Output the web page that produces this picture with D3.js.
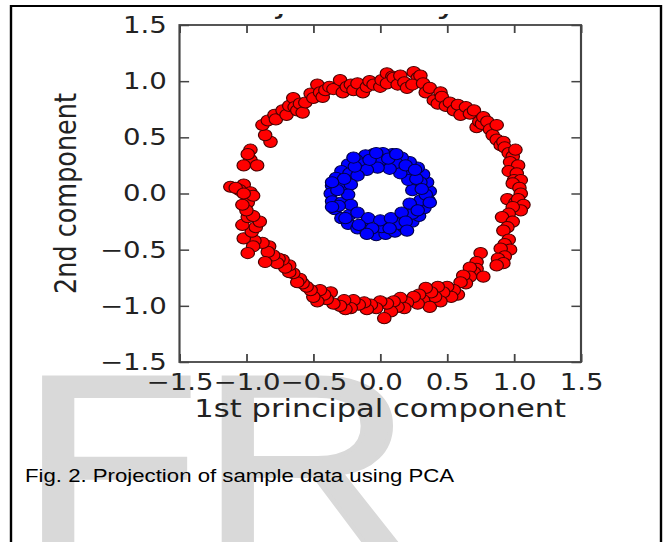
<!DOCTYPE html>
<html>
<head>
<meta charset="utf-8">
<script src="https://cdn.jsdelivr.net/npm/d3@7"></script>
<style>
  body { margin: 0; background: #fff; }
  svg { display: block; }
</style>
</head>
<body>
<div id="chart"></div>
<script>
// outer circle (red)
const redPoints = [
    [-1.12, 0.06], [-1.02, 0.08], [-0.97, 0.01], [-0.99, -0.08], [-1.05, 0.03], [-0.95, -0.02],
    [-1.08, 0.05], [-0.97, 0.39], [-0.97, 0.30], [-0.92, 0.25], [-1.02, 0.25], [-0.99, 0.35],
    [-0.82, 0.46], [-0.86, 0.52], [-0.88, 0.61], [-0.84, 0.65], [-0.79, 0.70], [-0.78, 0.66],
    [-0.73, 0.74], [-0.70, 0.70], [-0.68, 0.78], [-0.65, 0.85], [-0.64, 0.77], [-0.62, 0.74],
    [-0.60, 0.80], [-0.58, 0.72], [-0.56, 0.81], [-0.52, 0.89], [-0.50, 0.85], [-0.47, 0.97],
    [-0.45, 0.90], [-0.43, 0.86], [-0.41, 0.92], [-0.38, 0.95], [-0.35, 0.93], [-0.30, 1.01],
    [-0.28, 0.90], [-0.25, 0.95], [-0.22, 0.97], [-0.20, 0.92], [-0.17, 0.98], [-0.13, 0.90],
    [-0.10, 0.95], [-0.08, 1.00], [-0.05, 0.97], [0.00, 0.95], [0.01, 1.01],
    [0.05, 1.07], [0.09, 1.04], [0.05, 0.98], [0.10, 1.03], [0.13, 0.97], [0.15, 1.05],
    [0.18, 0.99], [0.20, 0.94], [0.25, 1.08], [0.28, 1.03], [0.24, 0.97], [0.30, 1.05],
    [0.32, 0.98], [0.34, 0.90], [0.37, 0.94], [0.40, 0.83], [0.43, 0.80], [0.45, 0.90],
    [0.46, 0.86], [0.49, 0.78], [0.52, 0.81], [0.55, 0.74], [0.58, 0.79], [0.60, 0.70],
    [0.64, 0.77], [0.67, 0.71], [0.70, 0.74], [0.72, 0.59], [0.74, 0.64], [0.76, 0.62],
    [0.77, 0.68], [0.80, 0.64], [0.82, 0.57], [0.84, 0.52], [0.87, 0.61], [0.87, 0.48],
    [0.90, 0.43], [0.92, 0.46], [0.93, 0.41], [0.96, 0.36], [0.99, 0.33], [1.01, 0.39],
    [0.97, 0.28], [1.03, 0.25], [0.96, 0.20], [1.02, 0.18], [1.00, 0.12], [1.05, 0.12],
    [0.99, 0.09], [1.04, 0.05], [1.05, 0.00], [0.95, -0.05], [1.01, -0.08], [1.03, -0.05],
    [1.07, -0.10], [1.05, -0.15], [0.99, -0.12], [0.96, -0.18], [0.91, -0.21], [0.99, -0.25],
    [0.95, -0.30], [0.92, -0.33], [0.96, -0.41], [0.93, -0.45], [0.97, -0.50], [0.90, -0.49],
    [0.93, -0.56], [0.88, -0.58], [0.92, -0.62], [0.87, -0.64],
    [0.75, -0.53], [0.72, -0.61], [0.72, -0.67], [0.70, -0.70], [0.67, -0.66], [0.77, -0.74],
    [0.67, -0.74], [0.64, -0.80], [0.62, -0.73], [0.60, -0.79], [0.58, -0.90], [0.55, -0.86],
    [0.53, -0.92], [0.50, -0.83], [0.47, -0.88], [0.45, -0.96], [0.43, -0.83], [0.41, -0.92],
    [0.38, -0.88], [0.34, -0.84], [0.32, -0.95], [0.37, -1.01], [0.29, -0.90], [0.28, -0.98],
    [0.25, -0.92], [0.20, -0.97], [0.18, -1.02], [0.15, -0.93], [0.13, -1.01], [0.10, -0.96],
    [0.08, -1.05], [0.05, -0.98], [0.03, -1.11], [0.00, -0.96],
    [-0.03, -1.02], [-0.07, -0.99], [-0.10, -1.03], [-0.12, -0.97], [-0.16, -0.99], [-0.20, -0.95],
    [-0.22, -1.02], [-0.26, -1.03], [-0.27, -0.95], [-0.30, -1.00], [-0.35, -0.98], [-0.37, -0.88],
    [-0.40, -0.94], [-0.42, -0.90], [-0.45, -0.86], [-0.47, -0.96], [-0.50, -0.92], [-0.52, -0.86],
    [-0.55, -0.83], [-0.58, -0.80], [-0.60, -0.76], [-0.62, -0.79], [-0.65, -0.71], [-0.68, -0.70],
    [-0.68, -0.64], [-0.71, -0.66], [-0.73, -0.59], [-0.76, -0.58], [-0.77, -0.62], [-0.80, -0.55],
    [-0.83, -0.47], [-0.84, -0.52], [-0.86, -0.61], [-0.88, -0.44], [-0.94, -0.42], [-0.95, -0.47],
    [-0.99, -0.53], [-1.02, -0.40], [-0.96, -0.34], [-0.93, -0.30], [-1.03, -0.28], [-0.90, -0.25],
    [-0.99, -0.21], [-0.95, -0.20], [-1.00, -0.15], [-1.03, -0.10], [-1.02, 0.00]
];

// inner circle (blue)
const bluePoints = [
    [0.37, 0.02], [0.35, 0.10], [0.32, 0.17], [0.28, 0.23], [0.22, 0.28], [0.16, 0.32],
    [0.09, 0.35], [0.02, 0.36], [-0.05, 0.35], [-0.11, 0.34], [-0.18, 0.30], [-0.24, 0.26],
    [-0.29, 0.20], [-0.33, 0.14], [-0.36, 0.07], [-0.37, 0.00], [-0.36, -0.07], [-0.34, -0.14],
    [-0.29, -0.22], [-0.24, -0.27], [-0.17, -0.31], [-0.10, -0.34], [-0.03, -0.37], [0.04, -0.36],
    [0.11, -0.34], [0.18, -0.30], [0.24, -0.25], [0.29, -0.20], [0.33, -0.13], [0.36, -0.06],
    [0.30, 0.10], [0.22, 0.20], [0.12, 0.27], [0.00, 0.29], [-0.13, 0.26], [-0.23, 0.18],
    [-0.29, 0.06], [-0.29, -0.08], [-0.23, -0.19], [-0.12, -0.27], [0.01, -0.30], [0.14, -0.27],
    [0.24, -0.18], [0.30, -0.06],
    [0.24, 0.03], [0.21, 0.12], [0.15, 0.18], [0.07, 0.22], [-0.02, 0.23], [-0.10, 0.21],
    [-0.17, 0.16], [-0.22, 0.08], [-0.24, -0.01], [-0.22, -0.10], [-0.17, -0.17], [-0.09, -0.22],
    [0.00, -0.24], [0.08, -0.22], [0.16, -0.17], [0.22, -0.09],
    [0.34, -0.01], [0.27, 0.13], [0.19, 0.25], [0.06, 0.31], [-0.08, 0.30], [-0.19, 0.24],
    [-0.27, 0.13], [-0.32, 0.03], [-0.31, -0.11], [-0.26, -0.22], [-0.16, -0.28], [-0.06, -0.31],
    [0.07, -0.31], [0.19, -0.25], [0.28, -0.15], [0.31, 0.04], [0.26, 0.21], [-0.03, 0.36],
    [0.12, 0.35], [-0.20, 0.32], [-0.36, 0.10], [-0.36, -0.12], [0.37, -0.08], [0.20, -0.33],
    [-0.10, -0.36]
];

const tickValues = [-1.5, -1.0, -0.5, 0.0, 0.5, 1.0, 1.5];
const titleText = "Projection by PCA";
const xLabel = "1st principal component";
const yLabel = "2nd component";
const caption = "Fig. 2. Projection of sample data using PCA";

const W = 663, H = 542;
const sx = 1.2; // the whole figure is stretched sideways

const plot = { left: 179.5 / sx, right: 581 / sx, top: 25, bottom: 362 };

const svg = d3.select("#chart").append("svg")
    .attr("width", W)
    .attr("height", H);

svg.append("defs").append("clipPath")
    .attr("id", "titleClip")
    .append("rect")
    .attr("x", 0).attr("y", 14).attr("width", W).attr("height", 40);

const g = svg.append("g").attr("transform", `scale(${sx},1)`);

// watermark
g.append("text")
    .attr("x", 17)
    .attr("y", 546)
    .attr("font-family", "Liberation Sans, Arial, sans-serif")
    .attr("font-size", 245)
    .attr("fill", "#d9d9d9")
    .attr("stroke", "#d9d9d9")
    .attr("stroke-width", 4)
    .text("FR");

// page border
g.append("rect")
    .attr("x", 11 / sx)
    .attr("y", 6)
    .attr("width", (661 - 11) / sx)
    .attr("height", 600)
    .attr("fill", "none")
    .attr("stroke", "#000")
    .attr("stroke-width", 2);

const x = d3.scaleLinear().domain([-1.5, 1.5]).range([plot.left, plot.right]);
const y = d3.scaleLinear().domain([-1.5, 1.5]).range([plot.bottom, plot.top]);

// title, mostly cut off at the top of the picture
g.append("text")
    .attr("clip-path", "url(#titleClip)")
    .attr("x", (plot.left + plot.right) / 2)
    .attr("y", 13)
    .attr("text-anchor", "middle")
    .attr("font-family", "DejaVu Sans")
    .attr("font-size", 31)
    .attr("fill", "#222")
    .text(titleText);

const fmt = d3.format(".1f");

function styleAxis(sel) {
    sel.select(".domain").remove();
    sel.selectAll(".tick line").attr("stroke", "#444").attr("stroke-width", 1.5);
    sel.selectAll(".tick text")
        .attr("font-family", "DejaVu Sans")
        .attr("font-size", 23)
        .attr("fill", "#222");
}

g.append("g")
    .attr("transform", `translate(0,${plot.bottom})`)
    .call(d3.axisBottom(x).tickValues(tickValues).tickFormat(fmt).tickSize(-8).tickPadding(11.5))
    .call(styleAxis);

g.append("g")
    .attr("transform", `translate(0,${plot.top})`)
    .call(d3.axisTop(x).tickValues(tickValues).tickFormat("").tickSize(-8))
    .call(styleAxis);

g.append("g")
    .attr("transform", `translate(${plot.left},0)`)
    .call(d3.axisLeft(y).tickValues(tickValues).tickFormat(fmt).tickSize(-8).tickPadding(10.5))
    .call(styleAxis);

g.append("g")
    .attr("transform", `translate(${plot.right},0)`)
    .call(d3.axisRight(y).tickValues(tickValues).tickFormat("").tickSize(-8))
    .call(styleAxis);

// plot frame
g.append("rect")
    .attr("x", plot.left)
    .attr("y", plot.top)
    .attr("width", plot.right - plot.left)
    .attr("height", plot.bottom - plot.top)
    .attr("fill", "none")
    .attr("stroke", "#444")
    .attr("stroke-width", 1.8);

// points
g.append("g")
    .selectAll("circle")
    .data(redPoints)
    .enter().append("circle")
    .attr("cx", d => x(d[0]))
    .attr("cy", d => y(d[1]))
    .attr("r", 5.6)
    .attr("fill", "#ff0000")
    .attr("stroke", "#4a0000")
    .attr("stroke-width", 1);

g.append("g")
    .selectAll("circle")
    .data(bluePoints)
    .enter().append("circle")
    .attr("cx", d => x(d[0]))
    .attr("cy", d => y(d[1]))
    .attr("r", 5.6)
    .attr("fill", "#0000ff")
    .attr("stroke", "#00004a")
    .attr("stroke-width", 1);

// axis labels
g.append("text")
    .attr("x", (plot.left + plot.right) / 2)
    .attr("y", 417)
    .attr("text-anchor", "middle")
    .attr("font-family", "DejaVu Sans")
    .attr("font-size", 25.5)
    .attr("fill", "#222")
    .text(xLabel);

g.append("text")
    .attr("transform", `translate(63,${(plot.top + plot.bottom) / 2}) rotate(-90)`)
    .attr("text-anchor", "middle")
    .attr("font-family", "DejaVu Sans")
    .attr("font-size", 25.5)
    .attr("fill", "#222")
    .text(yLabel);

// caption
g.append("text")
    .attr("x", 25 / sx)
    .attr("y", 482)
    .attr("font-family", "Liberation Sans, Arial, sans-serif")
    .attr("font-size", 18.5)
    .attr("fill", "#000")
    .text(caption);
</script>
</body>
</html>
